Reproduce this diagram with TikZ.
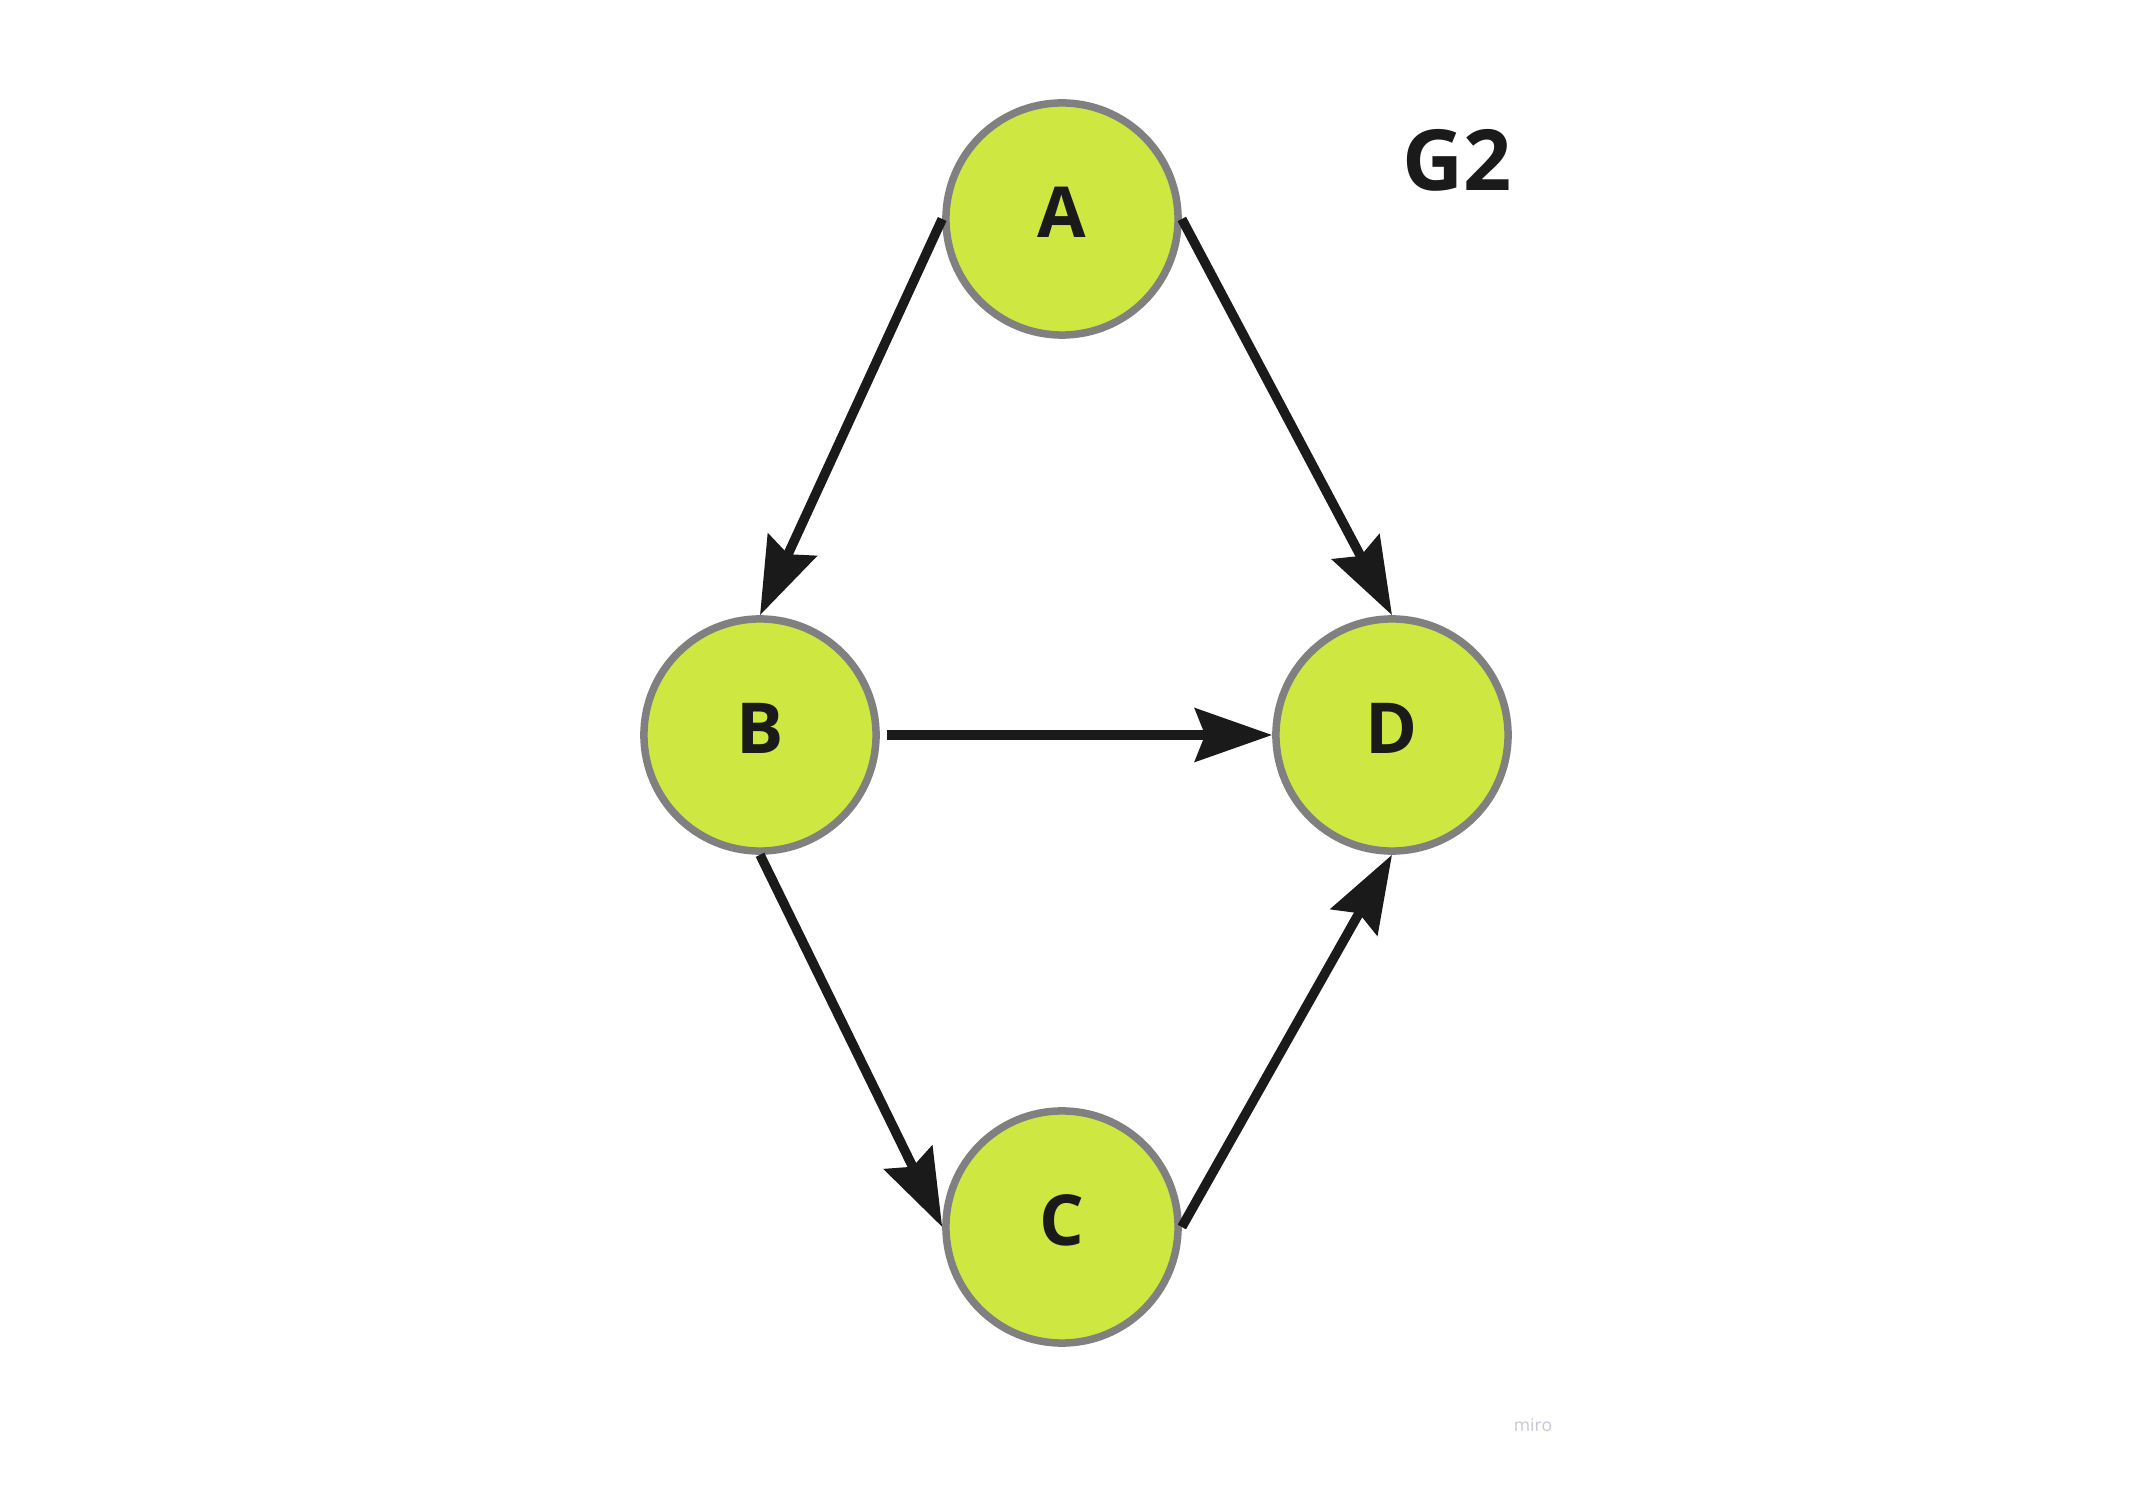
\documentclass[tikz,border=0pt]{standalone}
\usepackage{fontspec}
\setmainfont{Open Sans}
\usetikzlibrary{arrows.meta}
\definecolor{lime}{RGB}{206,231,65}
\definecolor{rim}{RGB}{128,128,128}
\definecolor{ink}{RGB}{26,26,26}
\definecolor{wm}{RGB}{200,200,215}
\tikzset{
  vertex/.style={circle, fill=lime, draw=rim, line width=0.075cm, minimum size=2.32cm, inner sep=0pt,
    text depth=0.14cm, font=\fontsize{20}{24}\selectfont\bfseries, text=ink},
  edge/.style={draw=ink, line width=0.095cm, -{Stealth[length=0.77cm, width=0.53cm, inset=0.1cm]}},
}
\begin{document}
\begin{tikzpicture}[x=0.01cm, y=-0.01cm]
\useasboundingbox (0,0) rectangle (2154,1492);
\fill[white] (0,0) rectangle (2154,1492);
\node[vertex] (A) at (1062,219) {A};
\node[vertex] (B) at (760,735) {B};
\node[vertex] (D) at (1392,735) {D};
\node[vertex] (C) at (1062,1227) {C};
\node[font=\fontsize{24}{28}\selectfont\bfseries, text=ink] (title) at (1457,160) {G2};
\node[font=\fontsize{5}{6}\selectfont, text=wm] (brand) at (1533,1425) {miro};
\draw[edge] (A.west) -- (B.north);
\draw[edge] (A.east) -- (D.north);
\draw[edge, shorten <=0.07cm] (B.east) -- (D.west);
\draw[edge] (B.south) -- (C.west);
\draw[edge] (C.east) -- (D.south);
\end{tikzpicture}
\end{document}
